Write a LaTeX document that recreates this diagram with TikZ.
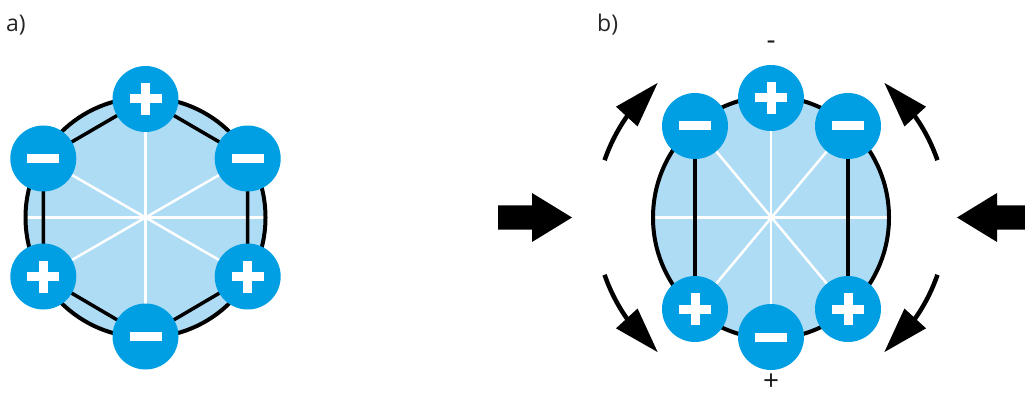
\documentclass[tikz,border=0pt]{standalone}
\usepackage{fontspec}
\setmainfont{Open Sans}
\usetikzlibrary{arrows.meta,bending}
\definecolor{ionblue}{HTML}{009FE3}
\definecolor{lightblue}{HTML}{AEDCF5}
\tikzset{
  ion/.style={circle, fill=ionblue, minimum size=66pt, inner sep=0pt},
  signbar/.style={white, line width=9pt},
  spoke/.style={white, line width=2.5pt},
  outline/.style={black, line width=4pt},
  bond/.style={black, line width=3.5pt},
  fatarrow/.style={fill=black},
  bendarrow/.style={black, line width=4.5pt, -{Triangle[length=46pt,width=28pt,flex]}},
  lbl/.style={font=\fontsize{23}{27}\selectfont, inner sep=0pt, text=black!85},
  sign/.style={font=\fontsize{28}{32}\selectfont, inner sep=0pt, text=black!90},
}
\newcommand\ionplus[1]{%
  \draw[signbar] ([xshift=-16pt]#1.center) -- ([xshift=16pt]#1.center);
  \draw[signbar] ([yshift=-16pt]#1.center) -- ([yshift=16pt]#1.center);}
\newcommand\ionminus[1]{%
  \draw[signbar] ([xshift=-16pt]#1.center) -- ([xshift=16pt]#1.center);}
\begin{document}
\begin{tikzpicture}[x=1pt,y=-1pt]
\useasboundingbox (0,0) rectangle (1025,398);

% ---------- panel a ----------
\coordinate (ca) at (145.5,217.5);
\coordinate (a1) at (145.5,99);
\coordinate (a2) at (247.7,158.5);
\coordinate (a3) at (247.7,276.5);
\coordinate (a4) at (145.5,336.5);
\coordinate (a5) at (43.3,276.5);
\coordinate (a6) at (43.3,158.5);
\coordinate (aw) at (25.5,217.5);
\coordinate (ae) at (265.5,217.5);
\fill[lightblue] (ca) circle[radius=120];
\draw[spoke] (aw) -- (ae);
\draw[spoke] (a1) -- (a4);
\draw[spoke] (a2) -- (a5);
\draw[spoke] (a3) -- (a6);
\draw[outline] (ca) circle[radius=120];
\draw[bond] (a1) -- (a2) -- (a3) -- (a4) -- (a5) -- (a6) -- cycle;
\node[ion] (ia1) at (a1) {};
\node[ion] (ia2) at (a2) {};
\node[ion] (ia3) at (a3) {};
\node[ion] (ia4) at (a4) {};
\node[ion] (ia5) at (a5) {};
\node[ion] (ia6) at (a6) {};
\ionplus{ia1}\ionminus{ia2}\ionplus{ia3}\ionminus{ia4}\ionplus{ia5}\ionminus{ia6}
\node[lbl, anchor=base west] (la) at (6,32) {a)};

% ---------- panel b ----------
\coordinate (cb) at (771,217.5);
\coordinate (b1) at (771,98);
\coordinate (b2) at (848,126);
\coordinate (b3) at (848,309);
\coordinate (b4) at (771,337);
\coordinate (b5) at (695,309);
\coordinate (b6) at (695,126);
\coordinate (bw) at (653,217.5);
\coordinate (be) at (889,217.5);
\fill[lightblue] (cb) ellipse[x radius=118, y radius=121];
\draw[spoke] (bw) -- (be);
\draw[spoke] (b1) -- (b4);
\draw[spoke] (b2) -- (b5);
\draw[spoke] (b3) -- (b6);
\draw[outline] (cb) ellipse[x radius=118, y radius=121];
\draw[bond] (b6) -- (b5);
\draw[bond] (b2) -- (b3);
\node[ion] (ib1) at (b1) {};
\node[ion] (ib2) at (b2) {};
\node[ion] (ib3) at (b3) {};
\node[ion] (ib4) at (b4) {};
\node[ion] (ib5) at (b5) {};
\node[ion] (ib6) at (b6) {};
\ionplus{ib1}\ionminus{ib2}\ionplus{ib3}\ionminus{ib4}\ionplus{ib5}\ionminus{ib6}
\node[lbl, anchor=base west] (lb) at (597,32) {b)};
\node[sign, anchor=center] (lminus) at (771,45) {-};
\node[sign, anchor=center] (lplus) at (771,382) {+};

% curved arrows
\draw[bendarrow] (cb) ++(-19:176) arc[start angle=-19, end angle=-50, radius=176];
\draw[bendarrow] (cb) ++(19:176) arc[start angle=19, end angle=50, radius=176];
\draw[bendarrow] (cb) ++(199:176) arc[start angle=199, end angle=230, radius=176];
\draw[bendarrow] (cb) ++(161:176) arc[start angle=161, end angle=130, radius=176];

% fat arrows
\fill[fatarrow] (498,205.5) -- (532,205.5) -- (532,193) -- (572,217.5) -- (532,242) -- (532,229.5) -- (498,229.5) -- cycle;
\fill[fatarrow] (1025,205.5) -- (997,205.5) -- (997,193) -- (957,217.5) -- (997,242) -- (997,229.5) -- (1025,229.5) -- cycle;
\end{tikzpicture}
\end{document}
